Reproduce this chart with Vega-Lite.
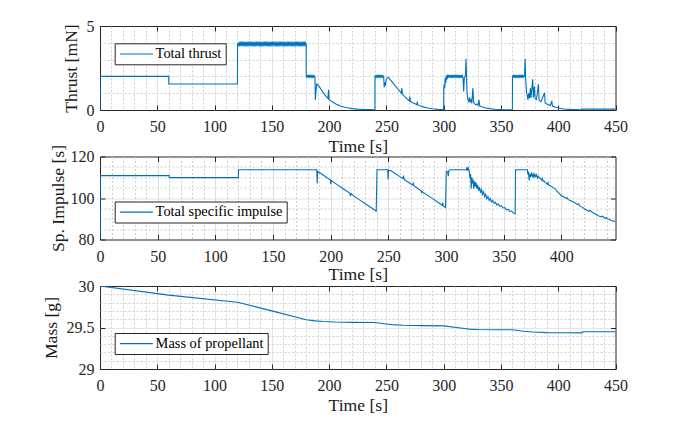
{
  "$schema": "https://vega.github.io/schema/vega-lite/v6.json",
  "background": "white",
  "padding": {"left": 42, "top": 17, "right": 10, "bottom": 5},
  "bounds": "flush",
  "spacing": 46.5,
  "config": {
    "font": "Liberation Serif",
    "view": {"stroke": "#262626", "strokeWidth": 1},
    "axis": {
      "labelFont": "Liberation Serif", "labelFontSize": 16, "labelColor": "#262626",
      "titleFont": "Liberation Serif", "titleFontSize": 17.6, "titleFontWeight": "normal", "titleColor": "#1a1a1a",
      "domain": false, "tickColor": "#262626", "tickSize": -5, "tickWidth": 1,
      "labelOverlap": false, "labelFlush": false, "gridWidth": 1
    },
    "legend": {
      "orient": "none", "strokeColor": "#262626", "fillColor": "white", "padding": 3.5,
      "columnPadding": 0, "rowPadding": 0,
      "symbolType": "M-3.3,0H3.3", "symbolSize": 100, "symbolStrokeWidth": 1.2,
      "labelFont": "Liberation Serif", "labelFontSize": 14.4, "labelColor": "#000000",
      "labelOffset": 12, "symbolOffset": 11, "cornerRadius": 0
    }
  },
  "resolve": {"scale": {"x": "independent", "y": "independent", "color": "independent"}, "legend": {"color": "independent"}},
  "datasets": {
    "thrust": [
      {"t":0,"v":0},{"t":0.05,"v":2.0},{"t":60,"v":2.0},{"t":60.05,"v":1.55},{"t":120,"v":1.55},
      {"t":120.05,"v":3.87},{"t":120.5,"v":4},{"t":121,"v":3.87},{"t":121.5,"v":4},{"t":122,"v":3.87},{"t":122.5,"v":4},{"t":123,"v":3.87},{"t":123.5,"v":4},{"t":124,"v":3.87},{"t":124.5,"v":4},{"t":125,"v":3.87},{"t":125.5,"v":4},{"t":126,"v":3.87},{"t":126.5,"v":4},{"t":127,"v":3.87},{"t":127.5,"v":4},{"t":128,"v":3.87},{"t":128.5,"v":4},{"t":129,"v":3.87},{"t":129.5,"v":4},{"t":130,"v":3.87},
      {"t":130.5,"v":4},{"t":131,"v":3.87},{"t":131.5,"v":4},{"t":132,"v":3.87},{"t":132.5,"v":4},{"t":133,"v":3.87},{"t":133.5,"v":4},{"t":134,"v":3.87},{"t":134.5,"v":4},{"t":135,"v":3.87},{"t":135.5,"v":4},{"t":136,"v":3.87},{"t":136.5,"v":4},{"t":137,"v":3.87},{"t":137.5,"v":4},{"t":138,"v":3.87},{"t":138.5,"v":4},{"t":139,"v":3.87},{"t":139.5,"v":4},{"t":140,"v":3.87},
      {"t":140.5,"v":4},{"t":141,"v":3.87},{"t":141.5,"v":4},{"t":142,"v":3.87},{"t":142.5,"v":4},{"t":143,"v":3.87},{"t":143.5,"v":4},{"t":144,"v":3.87},{"t":144.5,"v":4},{"t":145,"v":3.87},{"t":145.5,"v":4},{"t":146,"v":3.87},{"t":146.5,"v":4},{"t":147,"v":3.87},{"t":147.5,"v":4},{"t":148,"v":3.87},{"t":148.5,"v":4},{"t":149,"v":3.87},{"t":149.5,"v":4},{"t":150,"v":3.87},
      {"t":150.5,"v":4},{"t":151,"v":3.87},{"t":151.5,"v":4},{"t":152,"v":3.87},{"t":152.5,"v":4},{"t":153,"v":3.87},{"t":153.5,"v":4},{"t":154,"v":3.87},{"t":154.5,"v":4},{"t":155,"v":3.87},{"t":155.5,"v":4},{"t":156,"v":3.87},{"t":156.5,"v":4},{"t":157,"v":3.87},{"t":157.5,"v":4},{"t":158,"v":3.87},{"t":158.5,"v":4},{"t":159,"v":3.87},{"t":159.5,"v":4},{"t":160,"v":3.87},
      {"t":160.5,"v":4},{"t":161,"v":3.87},{"t":161.5,"v":4},{"t":162,"v":3.87},{"t":162.5,"v":4},{"t":163,"v":3.87},{"t":163.5,"v":4},{"t":164,"v":3.87},{"t":164.5,"v":4},{"t":165,"v":3.87},{"t":165.5,"v":4},{"t":166,"v":3.87},{"t":166.5,"v":4},{"t":167,"v":3.87},{"t":167.5,"v":4},{"t":168,"v":3.87},{"t":168.5,"v":4},{"t":169,"v":3.87},{"t":169.5,"v":4},{"t":170,"v":3.87},
      {"t":170.5,"v":4},{"t":171,"v":3.87},{"t":171.5,"v":4},{"t":172,"v":3.87},{"t":172.5,"v":4},{"t":173,"v":3.87},{"t":173.5,"v":4},{"t":174,"v":3.87},{"t":174.5,"v":4},{"t":175,"v":3.87},{"t":175.5,"v":4},{"t":176,"v":3.87},{"t":176.5,"v":4},{"t":177,"v":3.87},{"t":177.5,"v":4},{"t":178,"v":3.87},{"t":178.5,"v":4},{"t":179,"v":3.87},{"t":179.5,"v":4},{"t":180,"v":3.9},
      {"t":180.05,"v":2.04},{"t":180.5,"v":1.96},{"t":181,"v":2.04},{"t":181.5,"v":1.96},{"t":182,"v":2.04},{"t":182.5,"v":1.96},{"t":183,"v":2.04},{"t":183.5,"v":1.96},{"t":184,"v":2.04},{"t":184.5,"v":1.96},{"t":185,"v":2.04},{"t":185.5,"v":1.96},{"t":186,"v":2.04},{"t":186.5,"v":1.96},{"t":187,"v":2.04},{"t":187.6,"v":2.0},
      {"t":188,"v":0.6},{"t":188.5,"v":1.1},{"t":189.2,"v":1.55},{"t":190,"v":1.5},{"t":191,"v":1.42},{"t":192,"v":1.33},{"t":193,"v":1.22},{"t":194,"v":1.12},{"t":195,"v":1.02},{"t":196,"v":0.93},{"t":197,"v":0.84},{"t":198,"v":0.76},{"t":199,"v":0.69},{"t":199.5,"v":1.2},{"t":200,"v":0.62},{"t":201,"v":0.57},{"t":202,"v":0.52},{"t":204,"v":0.43},{"t":206,"v":0.36},{"t":208,"v":0.3},{"t":210,"v":0.24},{"t":213,"v":0.18},{"t":216,"v":0.13},{"t":220,"v":0.08},{"t":225,"v":0.05},{"t":230,"v":0.03},{"t":235,"v":0.02},{"t":240,"v":0.015},
      {"t":240.05,"v":2.04},{"t":240.5,"v":1.96},{"t":241,"v":2.04},{"t":241.5,"v":1.96},{"t":242,"v":2.04},{"t":242.5,"v":1.96},{"t":243,"v":2.04},{"t":243.5,"v":1.96},{"t":244,"v":2.04},{"t":244.5,"v":1.96},{"t":245,"v":2.04},{"t":245.5,"v":1.96},{"t":246,"v":2.04},{"t":246.5,"v":1.96},{"t":247,"v":2.04},{"t":247.6,"v":2.0},
      {"t":248.1,"v":1.35},{"t":248.6,"v":1.65},{"t":249.1,"v":1.45},{"t":249.8,"v":1.8},{"t":250.5,"v":1.9},{"t":251.5,"v":1.95},{"t":252.5,"v":1.88},{"t":254,"v":1.75},{"t":256,"v":1.58},{"t":258,"v":1.42},{"t":260,"v":1.25},{"t":262,"v":1.1},{"t":263,"v":1.0},{"t":263.5,"v":1.3},{"t":264,"v":0.95},{"t":266,"v":0.8},{"t":268,"v":0.66},{"t":270,"v":0.54},{"t":270.5,"v":0.8},{"t":271,"v":0.5},{"t":273,"v":0.43},{"t":275,"v":0.37},{"t":276.6,"v":0.32},{"t":277,"v":0.5},{"t":277.4,"v":0.3},{"t":280,"v":0.24},{"t":283,"v":0.17},{"t":286,"v":0.12},{"t":290,"v":0.07},{"t":295,"v":0.04},{"t":300,"v":0.02},
      {"t":300.05,"v":1.2},{"t":300.5,"v":1.55},{"t":300.9,"v":1.3},{"t":301.4,"v":1.9},{"t":301.8,"v":1.6},{"t":302.3,"v":2.05},{"t":302.8,"v":1.8},{"t":303.3,"v":2.04},
      {"t":303.8,"v":1.96},{"t":304.3,"v":2.04},{"t":304.8,"v":1.96},{"t":305.3,"v":2.04},{"t":305.8,"v":1.96},{"t":306.3,"v":2.04},{"t":306.8,"v":1.96},{"t":307.3,"v":2.04},{"t":307.8,"v":1.96},{"t":308.3,"v":2.04},{"t":308.8,"v":1.96},{"t":309.3,"v":2.04},{"t":309.8,"v":1.96},{"t":310.3,"v":2.04},{"t":310.8,"v":1.96},{"t":311.3,"v":2.04},{"t":311.8,"v":1.96},{"t":312.3,"v":2.04},{"t":312.8,"v":1.96},{"t":313.3,"v":2.04},{"t":313.8,"v":1.96},{"t":314.3,"v":2.04},{"t":314.8,"v":1.96},{"t":315.3,"v":2.04},{"t":315.8,"v":1.96},{"t":316.3,"v":2.04},{"t":316.8,"v":1.96},
      {"t":317.5,"v":1.1},{"t":318,"v":1.9},{"t":319,"v":2.05},{"t":319.5,"v":3.05},{"t":320,"v":1.9},{"t":320.4,"v":1.0},{"t":321,"v":0.7},{"t":322,"v":0.45},{"t":322.6,"v":0.75},{"t":323.2,"v":0.5},{"t":324,"v":0.6},{"t":324.6,"v":0.4},{"t":325.5,"v":1.3},{"t":326.2,"v":0.45},{"t":327,"v":0.38},{"t":328,"v":0.3},{"t":329,"v":0.36},{"t":330,"v":0.27},{"t":330.8,"v":0.6},{"t":331.5,"v":0.23},{"t":333,"v":0.19},{"t":336,"v":0.13},{"t":340,"v":0.08},{"t":345,"v":0.045},{"t":350,"v":0.025},{"t":355,"v":0.015},{"t":360,"v":0.01},
      {"t":360.05,"v":2.04},{"t":360.5,"v":1.96},{"t":361,"v":2.04},{"t":361.5,"v":1.96},{"t":362,"v":2.04},{"t":362.5,"v":1.96},{"t":363,"v":2.04},{"t":363.5,"v":1.96},{"t":364,"v":2.04},{"t":364.5,"v":1.96},{"t":365,"v":2.04},{"t":365.5,"v":1.96},{"t":366,"v":2.04},{"t":366.5,"v":1.96},{"t":367,"v":2.04},{"t":367.5,"v":1.96},{"t":368,"v":2.04},{"t":368.5,"v":1.96},{"t":369,"v":2.04},{"t":369.5,"v":1.96},{"t":370,"v":2.04},
      {"t":370.6,"v":2.0},{"t":371.1,"v":3.05},{"t":371.6,"v":1.8},{"t":372.3,"v":1.1},{"t":373,"v":0.85},{"t":373.6,"v":0.6},{"t":374.2,"v":1.0},{"t":375,"v":0.7},{"t":375.7,"v":1.3},{"t":376.2,"v":0.72},{"t":377.7,"v":1.83},{"t":378.3,"v":0.75},{"t":379.2,"v":1.4},{"t":379.8,"v":0.68},{"t":381,"v":0.62},{"t":382.7,"v":1.53},{"t":383.3,"v":0.58},{"t":385,"v":0.5},{"t":388,"v":1.03},{"t":388.6,"v":0.42},{"t":390,"v":0.35},{"t":393,"v":0.27},{"t":394.4,"v":0.5},{"t":395,"v":0.23},{"t":398,"v":0.16},{"t":401,"v":0.1},{"t":405,"v":0.06},{"t":410,"v":0.035},{"t":415,"v":0.02},{"t":420,"v":0.012},{"t":420.5,"v":0.05},{"t":450,"v":0.05}
    ],
    "isp": [
      {"t":0,"v":80},{"t":0.05,"v":110.8},{"t":60,"v":110.8},{"t":60.05,"v":109.8},{"t":120,"v":109.8},{"t":120.05,"v":113.6},{"t":188,"v":113.6},{"t":188.3,"v":107},{"t":188.8,"v":112.8},
      {"t":190,"v":112.4},{"t":195,"v":110.5},{"t":199.8,"v":108.7},{"t":200.2,"v":106.6},{"t":200.6,"v":108.4},{"t":205,"v":106.7},{"t":210,"v":104.8},{"t":216.8,"v":102.3},{"t":217.2,"v":100.9},{"t":217.6,"v":102.1},{"t":220,"v":101.0},{"t":225,"v":99.1},{"t":230,"v":97.2},{"t":235,"v":95.4},{"t":239.5,"v":93.6},
      {"t":240.2,"v":113.6},{"t":249.5,"v":113.6},{"t":249.8,"v":108.9},{"t":250.2,"v":113.4},{"t":252,"v":113.2},{"t":256,"v":111.8},{"t":260,"v":110.3},{"t":262.8,"v":109.4},{"t":263.2,"v":110.8},{"t":263.6,"v":109.1},{"t":266,"v":108.1},{"t":270,"v":106.6},{"t":271.3,"v":106.4},{"t":271.7,"v":107.4},{"t":272.1,"v":105.9},{"t":275,"v":104.8},{"t":278.5,"v":103.5},{"t":278.9,"v":102.3},{"t":279.3,"v":103.2},{"t":280,"v":102.8},{"t":285,"v":100.9},{"t":290,"v":99.1},{"t":294,"v":97.6},{"t":296.8,"v":96.5},{"t":297.2,"v":97.8},{"t":297.6,"v":96.2},{"t":299.6,"v":95.4},
      {"t":300.3,"v":112.9},{"t":301.5,"v":112.6},{"t":302,"v":110.5},{"t":302.5,"v":113.2},{"t":303.5,"v":113.6},{"t":317.5,"v":113.6},{"t":318,"v":114.3},{"t":318.5,"v":113.2},{"t":319.2,"v":115},{"t":319.6,"v":113.8},
      {"t":320.2,"v":112.5},{"t":320.8,"v":109.5},{"t":321.3,"v":111.5},{"t":321.9,"v":104.5},{"t":322.4,"v":110},{"t":323,"v":107},{"t":323.5,"v":109},{"t":324.1,"v":104.5},{"t":324.7,"v":108},{"t":325.4,"v":105.5},{"t":326,"v":107.5},{"t":326.8,"v":104.5},{"t":327.5,"v":106.3},{"t":328.3,"v":103.5},{"t":329.1,"v":105.2},{"t":330,"v":102.5},{"t":330.9,"v":104},{"t":331.8,"v":101.6},{"t":332.7,"v":102.9},{"t":333.6,"v":100.6},{"t":334.5,"v":101.8},{"t":335.4,"v":99.7},{"t":336.4,"v":100.7},{"t":337.4,"v":98.8},{"t":338.4,"v":99.7},{"t":339.4,"v":98.1},{"t":340.5,"v":98.9},{"t":341.6,"v":97.4},{"t":342.8,"v":98},{"t":344,"v":96.7},{"t":345.2,"v":97.2},{"t":346.5,"v":96},{"t":348,"v":96.3},{"t":349.5,"v":95.2},{"t":351,"v":95.4},{"t":352.5,"v":94.3},{"t":354,"v":94.5},{"t":355.5,"v":93.5},{"t":357,"v":93.7},{"t":358.5,"v":92.7},{"t":360,"v":92.4},
      {"t":360.3,"v":113.6},{"t":370.5,"v":113.6},{"t":371,"v":111.5},{"t":371.5,"v":112.8},{"t":372.2,"v":108.5},{"t":372.8,"v":111.8},{"t":373.5,"v":110.2},{"t":374.2,"v":111.8},{"t":375,"v":110.5},{"t":375.6,"v":111.5},{"t":376.3,"v":109.8},{"t":377,"v":111.5},{"t":377.8,"v":110.3},{"t":378.5,"v":111.2},{"t":379.3,"v":109.7},{"t":380,"v":110.5},{"t":381,"v":109.6},{"t":382,"v":109.4},{"t":383,"v":108.6},{"t":383.6,"v":109.4},{"t":384.3,"v":108},{"t":385,"v":108.2},{"t":386,"v":107.4},{"t":387,"v":107.2},{"t":388,"v":106.6},{"t":388.5,"v":107.4},{"t":389,"v":106.2},{"t":390,"v":106},{"t":393,"v":105},{"t":395,"v":104.3},{"t":396,"v":103.4},{"t":398,"v":102.3},{"t":400,"v":101.1},{"t":402,"v":100.6},{"t":404,"v":99.8},{"t":405,"v":100.2},{"t":406,"v":99.2},{"t":408,"v":98.8},{"t":410,"v":98.2},{"t":412,"v":97.6},{"t":414,"v":96.8},{"t":415,"v":97.2},{"t":416,"v":96.2},{"t":418,"v":95.6},{"t":420,"v":94.8},{"t":422,"v":94.2},{"t":424,"v":93.6},{"t":425,"v":94},{"t":427,"v":93},{"t":429,"v":92.4},{"t":431,"v":91.8},{"t":433,"v":91.2},{"t":435,"v":90.9},{"t":436,"v":91.3},{"t":437,"v":90.5},{"t":438,"v":90.2},{"t":439,"v":90.6},{"t":440,"v":89.9},{"t":442,"v":89.7},{"t":443,"v":89.2},{"t":445,"v":88.9},{"t":447,"v":88.6}
    ],
    "mass": [
      {"t":0,"v":30.0},{"t":60,"v":29.89},{"t":120,"v":29.805},{"t":150,"v":29.7},{"t":180,"v":29.594},{"t":188,"v":29.58},{"t":195,"v":29.572},{"t":205,"v":29.566},{"t":220,"v":29.562},{"t":240,"v":29.561},{"t":248,"v":29.546},{"t":255,"v":29.535},{"t":265,"v":29.527},{"t":280,"v":29.522},{"t":300,"v":29.52},{"t":318,"v":29.487},{"t":322,"v":29.48},{"t":330,"v":29.475},{"t":345,"v":29.473},{"t":360,"v":29.472},{"t":370,"v":29.455},{"t":378,"v":29.446},{"t":390,"v":29.438},{"t":405,"v":29.436},{"t":421,"v":29.435},{"t":421.5,"v":29.448},{"t":450,"v":29.448}
    ]
  },
  "vconcat": [
    {
      "width": 515.5, "height": 84,
      "data": {"name": "thrust"},
      "resolve": {"axis": {"x": "independent", "y": "independent"}},
      "layer": [
        {
          "mark": {"type": "line", "strokeWidth": 1.1, "clip": true},
          "encoding": {
            "x": {"field": "t", "type": "quantitative", "scale": {"domain": [0, 450], "nice": false, "zero": false},
              "axis": {"values": [0,10,20,30,40,50,60,70,80,90,100,110,120,130,140,150,160,170,180,190,200,210,220,230,240,250,260,270,280,290,300,310,320,330,340,350,360,370,380,390,400,410,420,430,440,450],
                "labelExpr": "datum.value % 50 === 0 ? datum.label : ''", "labelBaseline": "alphabetic", "labelPadding": 26.5,
                "title": "Time [s]", "titleY": 41, "titleBaseline": "alphabetic",
                "tickOpacity": {"condition": {"test": "datum.value % 50 === 0", "value": 1}, "value": 0},
                "grid": true,
                "gridColor": {"condition": {"test": "datum.value % 50 === 0", "value": "#dcdcdc"}, "value": "#cfcfcf"},
                "gridDash": {"condition": {"test": "datum.value % 50 === 0", "value": [1, 0]}, "value": [2, 2]},
                "gridOpacity": {"condition": {"test": "datum.value === 0 || datum.value === 450", "value": 0}, "value": 1}}},
            "y": {"field": "v", "type": "quantitative", "scale": {"domain": [0, 5], "nice": false, "zero": false},
              "axis": {"values": [0,1,2,3,4,5],
                "labelExpr": "(datum.value === 0 || datum.value === 5) ? datum.label : ''", "labelPadding": 11,
                "title": "Thrust [mN]", "titleX": -24, "titleBaseline": "alphabetic",
                "tickOpacity": {"condition": {"test": "datum.value === 0 || datum.value === 5", "value": 1}, "value": 0},
                "grid": true, "gridColor": "#cfcfcf", "gridDash": [2, 2],
                "gridOpacity": {"condition": {"test": "datum.value === 0 || datum.value === 5", "value": 0}, "value": 1}}},
            "color": {"datum": "Total thrust", "scale": {"domain": ["Total thrust"], "range": ["#0072BD"]},
              "legend": {"title": null, "legendX": 14.7, "legendY": 17.3}}
          }
        },
        {
          "mark": {"type": "line", "opacity": 0},
          "encoding": {
            "x": {"field": "t", "type": "quantitative", "axis": {"orient": "top", "values": [0,50,100,150,200,250,300,350,400,450], "labels": false, "grid": false, "title": null}},
            "y": {"field": "v", "type": "quantitative", "axis": {"orient": "right", "values": [0, 5], "labels": false, "grid": false, "title": null}}
          }
        }
      ]
    },
    {
      "width": 515.5, "height": 83,
      "data": {"name": "isp"},
      "resolve": {"axis": {"x": "independent", "y": "independent"}},
      "layer": [
        {
          "mark": {"type": "line", "strokeWidth": 1.1, "clip": true},
          "encoding": {
            "x": {"field": "t", "type": "quantitative", "scale": {"domain": [0, 447], "nice": false, "zero": false},
              "axis": {"values": [0,10,20,30,40,50,60,70,80,90,100,110,120,130,140,150,160,170,180,190,200,210,220,230,240,250,260,270,280,290,300,310,320,330,340,350,360,370,380,390,400,410,420,430,440],
                "labelExpr": "datum.value % 50 === 0 ? datum.label : ''", "labelBaseline": "alphabetic", "labelPadding": 26.5,
                "title": "Time [s]", "titleY": 40, "titleBaseline": "alphabetic",
                "tickOpacity": {"condition": {"test": "datum.value % 50 === 0", "value": 1}, "value": 0},
                "grid": true,
                "gridColor": {"condition": {"test": "datum.value % 50 === 0", "value": "#dcdcdc"}, "value": "#cfcfcf"},
                "gridDash": {"condition": {"test": "datum.value % 50 === 0", "value": [1, 0]}, "value": [2, 2]},
                "gridOpacity": {"condition": {"test": "datum.value === 0", "value": 0}, "value": 1}}},
            "y": {"field": "v", "type": "quantitative", "scale": {"domain": [80, 120], "nice": false, "zero": false},
              "axis": {"values": [80,85,90,95,100,105,110,115,120],
                "labelExpr": "datum.value % 20 === 0 ? datum.label : ''", "labelPadding": 11,
                "title": "Sp. Impulse [s]", "titleX": -36.3, "titleBaseline": "alphabetic",
                "tickOpacity": {"condition": {"test": "datum.value % 20 === 0", "value": 1}, "value": 0},
                "grid": true,
                "gridColor": {"condition": {"test": "datum.value % 20 === 0", "value": "#dcdcdc"}, "value": "#cfcfcf"},
                "gridDash": {"condition": {"test": "datum.value % 20 === 0", "value": [1, 0]}, "value": [2, 2]},
                "gridOpacity": {"condition": {"test": "datum.value === 80 || datum.value === 120", "value": 0}, "value": 1}}},
            "color": {"datum": "Total specific impulse", "scale": {"domain": ["Total specific impulse"], "range": ["#0072BD"]},
              "legend": {"title": null, "legendX": 14.7, "legendY": 45}}
          }
        },
        {
          "mark": {"type": "line", "opacity": 0},
          "encoding": {
            "x": {"field": "t", "type": "quantitative", "axis": {"orient": "top", "values": [0,50,100,150,200,250,300,350,400], "labels": false, "grid": false, "title": null}},
            "y": {"field": "v", "type": "quantitative", "axis": {"orient": "right", "values": [80, 100, 120], "labels": false, "grid": false, "title": null}}
          }
        }
      ]
    },
    {
      "width": 515.5, "height": 83,
      "data": {"name": "mass"},
      "resolve": {"axis": {"x": "independent", "y": "independent"}},
      "layer": [
        {
          "mark": {"type": "line", "strokeWidth": 1.1, "clip": true},
          "encoding": {
            "x": {"field": "t", "type": "quantitative", "scale": {"domain": [0, 450], "nice": false, "zero": false},
              "axis": {"values": [0,10,20,30,40,50,60,70,80,90,100,110,120,130,140,150,160,170,180,190,200,210,220,230,240,250,260,270,280,290,300,310,320,330,340,350,360,370,380,390,400,410,420,430,440,450],
                "labelExpr": "datum.value % 50 === 0 ? datum.label : ''", "labelBaseline": "alphabetic", "labelPadding": 26.5,
                "title": "Time [s]", "titleY": 41.5, "titleBaseline": "alphabetic",
                "tickOpacity": {"condition": {"test": "datum.value % 50 === 0", "value": 1}, "value": 0},
                "grid": true,
                "gridColor": {"condition": {"test": "datum.value % 50 === 0", "value": "#dcdcdc"}, "value": "#cfcfcf"},
                "gridDash": {"condition": {"test": "datum.value % 50 === 0", "value": [1, 0]}, "value": [2, 2]},
                "gridOpacity": {"condition": {"test": "datum.value === 0 || datum.value === 450", "value": 0}, "value": 1}}},
            "y": {"field": "v", "type": "quantitative", "scale": {"domain": [29, 30], "nice": false, "zero": false},
              "axis": {"values": [29,29.1,29.2,29.3,29.4,29.5,29.6,29.7,29.8,29.9,30],
                "labelExpr": "abs(datum.value*2 - round(datum.value*2)) < 0.01 ? format(datum.value, '.1~f') : ''", "labelPadding": 11,
                "title": "Mass [g]", "titleX": -43.5, "titleBaseline": "alphabetic",
                "tickOpacity": {"condition": {"test": "abs(datum.value*2 - round(datum.value*2)) < 0.01", "value": 1}, "value": 0},
                "grid": true,
                "gridColor": {"condition": {"test": "abs(datum.value*2 - round(datum.value*2)) < 0.01", "value": "#dcdcdc"}, "value": "#cfcfcf"},
                "gridDash": {"condition": {"test": "abs(datum.value*2 - round(datum.value*2)) < 0.01", "value": [1, 0]}, "value": [2, 2]},
                "gridOpacity": {"condition": {"test": "datum.value === 29 || datum.value === 30", "value": 0}, "value": 1}}},
            "color": {"datum": "Mass of propellant", "scale": {"domain": ["Mass of propellant"], "range": ["#0072BD"]},
              "legend": {"title": null, "legendX": 14.7, "legendY": 47}}
          }
        },
        {
          "mark": {"type": "line", "opacity": 0},
          "encoding": {
            "x": {"field": "t", "type": "quantitative", "axis": {"orient": "top", "values": [0,50,100,150,200,250,300,350,400,450], "labels": false, "grid": false, "title": null}},
            "y": {"field": "v", "type": "quantitative", "axis": {"orient": "right", "values": [29, 29.5, 30], "labels": false, "grid": false, "title": null}}
          }
        }
      ]
    }
  ]
}
